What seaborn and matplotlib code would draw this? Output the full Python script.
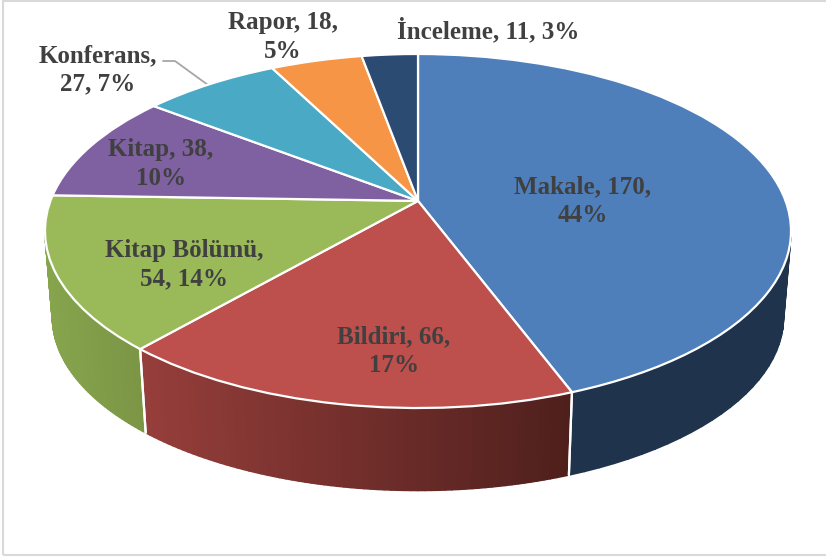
import numpy as np
import seaborn as sns
import matplotlib.pyplot as plt
from matplotlib.collections import PolyCollection
from matplotlib.colors import to_rgb
from matplotlib.lines import Line2D
from matplotlib.patches import Rectangle
from matplotlib.transforms import Transform

categories = ["Makale", "Bildiri", "Kitap Bölümü", "Kitap", "Konferans", "Rapor", "İnceleme"]
values = [170, 66, 54, 38, 27, 18, 11]
percents = [44, 17, 14, 10, 7, 5, 3]
# where each label wraps: after the name or after the count
wrap_after = ["count", "count", "name", "count", "name", "count", None]

top_colors = ["#4e7fbb", "#bd4f4c", "#9aba59", "#7f60a0", "#4aa9c4", "#f59545", "#2b4b73"]
wall_left = ["#1f334c", "#963e3b", "#86a54d", "#5f4878", "#37808f", "#b86f33", "#203955"]
wall_right = ["#1f334c", "#4e1f1c", "#7b9545", "#5f4878", "#37808f", "#b86f33", "#203955"]
TEXT = "#404040"

W, H = 826, 558
CX, CY, RX, RY = 418, 231, 373, 177
TILT = 0.17         # perspective, pie centre appears above the ellipse centre
DEPTH = 86 / RY
SHRINK = 0.98       # bottom rim is a bit smaller


def project(x, y):
    d = 1 + TILT * y
    return x * np.sqrt(1 - TILT ** 2) / d, (y + TILT) / d


class Perspective(Transform):
    input_dims = 2
    output_dims = 2

    def transform_non_affine(self, values):
        values = np.asarray(values)
        return np.column_stack(project(values[:, 0], values[:, 1]))


def px(x, y):
    return x / W, 1 - y / H


def make_label(i):
    name, val, pct = categories[i], values[i], percents[i]
    if wrap_after[i] == "count":
        return f"{name}, {val},\n{pct}%"
    if wrap_after[i] == "name":
        return f"{name},\n{val}, {pct}%"
    return f"{name}, {val}, {pct}%"


sns.set_theme(style="white")
plt.rcParams["font.family"] = ["Liberation Serif", "DejaVu Serif"]

fig, ax = plt.subplots(figsize=(W / 100, H / 100), dpi=100)
ax.set_position([0, 0, 1, 1])

wedges, _ = ax.pie(values, colors=top_colors, startangle=90, counterclock=False,
                   wedgeprops={"edgecolor": "white", "linewidth": 1.6})
ax.set_aspect("auto")
ax.set_xlim(-CX / RX, (W - CX) / RX)
ax.set_ylim((CY - H) / RY, CY / RY)

persp = Perspective() + ax.transData
for w in wedges:
    w.set_transform(persp)
    w.set_zorder(3)

# side wall, built from the pie's own wedge angles
for i, w in enumerate(wedges):
    th = np.radians(np.linspace(w.theta1, w.theta2, 70))
    x, y = project(np.cos(th), np.sin(th))
    keep = y <= 0
    if keep.sum() < 2:
        continue
    x, y = x[keep], y[keep]
    xb, yb = x * SHRINK, y * SHRINK - DEPTH
    t = (x[:-1] - x.min()) / max(x.max() - x.min(), 1e-6)
    c0, c1 = np.array(to_rgb(wall_left[i])), np.array(to_rgb(wall_right[i]))
    cols = [c0 + (c1 - c0) * v for v in t]
    quads = [[(x[j], y[j]), (x[j + 1], y[j + 1]), (xb[j + 1], yb[j + 1]), (xb[j], yb[j])]
             for j in range(len(x) - 1)]
    ax.add_collection(PolyCollection(quads, facecolors=cols, edgecolors=cols,
                                     linewidths=1.2, zorder=1))
    # white divider at the slice boundaries that reach the front
    for k in (0, -1):
        if abs(y[k]) > 0.1:
            ax.plot([x[k], xb[k]], [y[k], yb[k]], color="white", lw=1.6, zorder=2)

# frame of the original picture, running off on the right
fig.add_artist(Rectangle(px(3, 555), 1, 554 / H, transform=fig.transFigure, fill=False,
                         edgecolor="#d9d9d9", linewidth=1.5))

# leader line for Konferans
lx, ly = zip(px(163, 61), px(175, 61), px(208, 85))
fig.add_artist(Line2D(lx, ly, color="#a6a6a6", lw=1.3, transform=fig.transFigure, zorder=0))

label_pos = [(583, 201), (394, 351), (184, 265), (161, 164), (98, 70), (283, 37), (488, 30)]
for i, (lxp, lyp) in enumerate(label_pos):
    fx, fy = px(lxp, lyp)
    fig.text(fx, fy, make_label(i), ha="center", va="center", color=TEXT, fontsize=18,
             fontweight="bold", linespacing=1.3, zorder=5)

fig.savefig("out.png", dpi=100)
